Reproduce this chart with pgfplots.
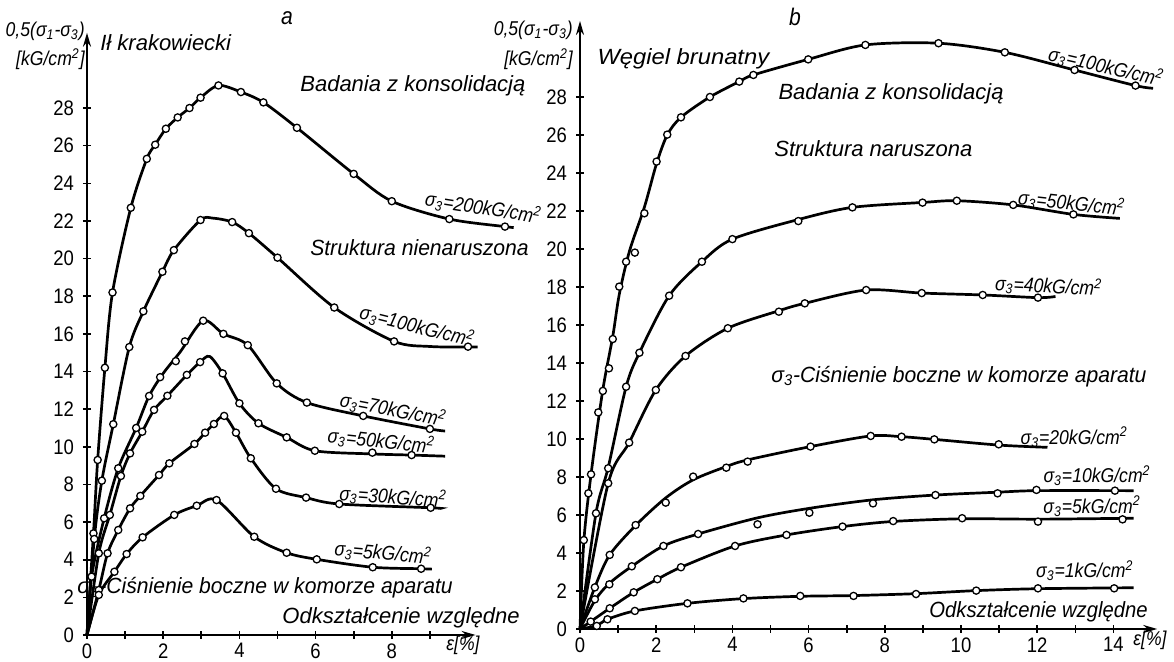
\documentclass[border=0pt]{standalone}
\usepackage{pgfplots}
\pgfplotsset{compat=1.18}
\usepackage{fontspec}
\setmainfont{Liberation Sans}[FakeStretch=0.88]
\newfontfamily\lblfont{Liberation Sans}
\usetikzlibrary{arrows.meta}
\tikzset{lbl/.style={font=\itshape\fontsize{10}{12}\selectfont, inner sep=0pt},
  big/.style={font=\lblfont\itshape\fontsize{11}{13}\selectfont, inner sep=0pt}}
\pgfplotsset{
  curve/.style={black, line width=1.35pt, smooth, no marks},
  pts/.style={black, only marks, mark=*, mark size=1.8pt, mark options={fill=white, draw=black, line width=0.65pt}},
  base/.style={anchor=origin, axis lines=left, clip=false,
    axis line style={line width=1pt, -{Stealth[length=7pt,width=4pt]}},
    xmin=0, ymin=0, ymax=32, ytick={0,2,...,28},
    tick align=center, major tick length=4pt, minor tick length=4pt,
    tick style={black, line width=0.8pt},
    /pgf/number format/assume math mode=true,
    ticklabel style={font=\fontsize{10.5}{11}\selectfont},
    yticklabel style={xshift=-1pt},
    xticklabel style={inner sep=0.5pt, yshift=-1.5pt},
  },
}
\begin{document}
\begin{tikzpicture}
\useasboundingbox (0,0) rectangle (587pt,331pt);
% ---------------- panel a
\begin{axis}[base, at={(43.5pt,13.5pt)}, x=19.05pt, y=9.41pt, xmax=10.2,
  xtick={0,2,...,8}, minor xtick={1,3,...,9}]
% sigma3 = 200
\addplot[curve] coordinates {(0,0) (0.17,5.4) (0.28,9.3) (0.47,14.2) (0.67,18.2) (1.15,22.7) (1.57,25.3) (1.79,26.05) (2.07,26.9) (2.38,27.5) (2.69,28.0) (2.98,28.55) (3.45,29.2) (4.04,28.85) (4.63,28.3) (5.51,26.95) (7.0,24.5) (8.0,23.05) (9.51,22.1) (10.97,21.7) (11.2,21.65)};
\addplot[pts] coordinates {(0.17,5.4) (0.28,9.3) (0.47,14.2) (0.67,18.2) (1.15,22.7) (1.57,25.3) (1.79,26.05) (2.07,26.9) (2.38,27.5) (2.69,28.0) (2.98,28.55) (3.45,29.2) (4.04,28.85) (4.63,28.3) (5.51,26.95) (7.0,24.5) (8.0,23.05) (9.51,22.1) (10.97,21.7)};
% sigma3 = 100
\addplot[curve] coordinates {(0,0) (0.19,5.1) (0.39,8.2) (0.69,11.2) (1.11,15.3) (1.48,17.2) (1.98,19.3) (2.28,20.45) (2.98,22.05) (3.3,22.15) (3.81,21.94) (4.25,21.35) (5.0,20.05) (6.49,17.4) (8.06,15.6) (9.0,15.33) (10.0,15.3) (10.25,15.3)};
\addplot[pts] coordinates {(0.19,5.1) (0.39,8.2) (0.69,11.2) (1.11,15.3) (1.48,17.2) (1.98,19.3) (2.28,20.45) (2.98,22.05) (3.81,21.94) (4.25,21.35) (5.0,20.05) (6.49,17.4) (8.06,15.6) (10.0,15.32)};
% sigma3 = 70
\addplot[curve] coordinates {(0,0) (0.12,3.1) (0.45,6.2) (0.82,8.86) (1.29,11.0) (1.63,12.7) (2.0,13.9) (2.45,15.05) (3.05,16.7) (3.58,16.0) (4.22,15.4) (4.98,13.37) (5.77,12.35) (7.25,11.64) (9.0,10.95) (9.4,10.84)};
\addplot[pts] coordinates {(0.12,3.1) (0.45,6.2) (0.82,8.86) (1.29,11.0) (1.63,12.7) (1.92,13.7) (2.33,14.55) (2.57,15.6) (3.05,16.7) (3.58,16.0) (4.22,15.4) (4.98,13.37) (5.77,12.35) (7.25,11.64) (9.0,10.95)};
% sigma3 = 50
\addplot[curve] coordinates {(0,0) (0.31,4.34) (0.60,6.38) (0.89,8.45) (1.13,9.65) (1.45,10.8) (1.76,11.96) (2.11,12.71) (2.62,13.82) (2.97,14.5) (3.22,14.8) (3.56,13.9) (4.0,12.31) (4.50,11.25) (5.24,10.5) (5.98,9.79) (7.49,9.62) (8.52,9.56) (9.4,9.5)};
\addplot[pts] coordinates {(0.31,4.34) (0.60,6.38) (0.89,8.45) (1.13,9.65) (1.45,10.8) (1.76,11.96) (2.11,12.71) (2.62,13.82) (2.97,14.5) (3.56,13.9) (4.0,12.31) (4.50,11.25) (5.24,10.5) (5.98,9.79) (7.49,9.69) (8.52,9.56)};
% sigma3 = 30
\addplot[curve] coordinates {(0,0) (0.31,2.39) (0.54,4.34) (0.82,5.58) (1.13,6.73) (1.40,7.39) (1.89,8.5) (2.16,9.12) (2.82,10.15) (3.10,10.75) (3.33,11.21) (3.60,11.64) (3.91,10.75) (4.30,9.39) (4.96,7.77) (5.75,7.3) (6.62,6.96) (9.02,6.76) (9.27,6.72)};
\addplot[pts] coordinates {(0.31,2.39) (0.54,4.34) (0.82,5.58) (1.13,6.73) (1.40,7.39) (1.89,8.5) (2.16,9.12) (2.82,10.15) (3.10,10.75) (3.33,11.21) (3.60,11.64) (3.91,10.75) (4.30,9.39) (4.96,7.77) (5.75,7.3) (6.62,6.96) (9.02,6.76)};
% sigma3 = 5
\addplot[curve] coordinates {(0,0) (0.31,2.13) (0.72,3.36) (1.04,4.3) (1.46,5.19) (2.29,6.38) (2.88,6.87) (3.40,7.17) (4.39,5.22) (5.24,4.37) (6.03,4.02) (7.5,3.6) (8.77,3.52) (9.05,3.5)};
\addplot[pts] coordinates {(0.31,2.13) (0.72,3.36) (1.04,4.3) (1.46,5.19) (2.29,6.38) (2.88,6.87) (3.40,7.17) (4.39,5.22) (5.24,4.37) (6.03,4.02) (7.5,3.6) (8.77,3.52)};
% texts
\node[lbl, font=\itshape\fontsize{12}{12}\selectfont] at (axis cs:5.25,32.8) {a};
\node[big, anchor=west] at (axis cs:0.34,31.5) {Ił krakowiecki};
\node[lbl, anchor=east] at (axis cs:-0.05,32.1) {0,5(σ\textsubscript{1}-σ\textsubscript{3})};
\node[lbl, anchor=east] at (axis cs:-0.05,30.6) {[kG/cm\textsuperscript{2}]};
\node[big, anchor=west] at (axis cs:5.59,29.2) {Badania z konsolidacją};
\node[big, anchor=west] at (axis cs:5.85,20.56) {\scalebox{0.96}[1]{Struktura nienaruszona}};
\node[lbl, rotate=-9] at (axis cs:10.4,22.7) {σ\textsubscript{3}=200kG/cm\textsuperscript{2}};
\node[lbl, rotate=-14] at (axis cs:8.66,16.4) {σ\textsubscript{3}=100kG/cm\textsuperscript{2}};
\node[lbl, rotate=-11] at (axis cs:8.03,11.96) {σ\textsubscript{3}=70kG/cm\textsuperscript{2}};
\node[lbl, rotate=-6] at (axis cs:7.72,10.3) {σ\textsubscript{3}=50kG/cm\textsuperscript{2}};
\node[lbl, rotate=-4] at (axis cs:8.03,7.33) {σ\textsubscript{3}=30kG/cm\textsuperscript{2}};
\node[lbl, rotate=-5] at (axis cs:7.77,4.36) {σ\textsubscript{3}=5kG/cm\textsuperscript{2}};
\node[big, anchor=west] at (axis cs:-0.26,2.5) {\scalebox{0.96}[1]{σ\textsubscript{3}-Ciśnienie boczne w komorze aparatu}};
\node[big, anchor=west] at (axis cs:5.12,0.9) {Odkształcenie względne};
\node[lbl] at (axis cs:9.87,-0.55) {ε[\%]};
\end{axis}
% ---------------- panel b
\begin{axis}[base, at={(290pt,16.5pt)}, x=19.05pt, y=9.5pt, xmax=15.15,
  xtick={0,2,...,14}, minor xtick={1,3,...,13}]
% sigma3 = 100
\addplot[curve] coordinates {(0,0) (0.1,4.6) (0.3,8.3) (0.6,12.6) (0.86,15.4) (1.03,17.6) (1.3,19.9) (1.69,22.2) (2.01,24.5) (2.29,26.0) (2.65,26.93) (3.41,28.0) (4.18,28.81) (4.55,29.16) (5.99,29.98) (7.49,30.74) (9.41,30.83) (11.15,30.35) (12.98,29.42) (14.58,28.6) (15.04,28.46)};
\addplot[pts] coordinates {(0.10,4.68) (0.22,7.14) (0.29,8.14) (0.48,11.4) (0.6,12.53) (0.76,13.72) (0.86,15.26) (1.03,18.02) (1.21,19.33) (1.44,19.81) (1.69,21.88) (2.01,24.6) (2.29,26.02) (2.65,26.93) (3.41,28.0) (4.18,28.81) (4.55,29.16) (5.99,29.98) (7.49,30.74) (9.41,30.83) (11.15,30.35) (12.98,29.42) (14.58,28.6)};
% sigma3 = 50
\addplot[curve] coordinates {(0,0) (0.42,6.1) (0.74,8.5) (1.21,12.75) (1.56,14.54) (2.34,17.54) (3.2,19.33) (4.0,20.52) (5.73,21.55) (7.15,22.19) (9.0,22.45) (9.9,22.54) (11.37,22.32) (12.95,21.82) (14.17,21.61)};
\addplot[pts] coordinates {(0.42,6.09) (0.74,8.46) (1.21,12.75) (1.56,14.54) (2.34,17.54) (3.2,19.33) (4.0,20.52) (5.73,21.47) (7.15,22.19) (8.99,22.44) (9.89,22.54) (11.37,22.32) (12.95,21.82)};
% sigma3 = 40
\addplot[curve] coordinates {(0,0) (0.74,7.67) (1.29,9.81) (1.99,12.58) (2.77,14.37) (3.88,15.83) (5.22,16.75) (5.90,17.14) (7.51,17.84) (8.97,17.68) (10.57,17.58) (12.02,17.44) (12.48,17.5)};
\addplot[pts] coordinates {(0.74,7.67) (1.29,9.81) (1.99,12.58) (2.77,14.37) (3.88,15.83) (5.22,16.7) (5.90,17.14) (7.51,17.84) (8.97,17.68) (10.57,17.58) (12.02,17.44)};
% sigma3 = 20
\addplot[curve] coordinates {(0,0) (0.39,2.2) (0.78,3.9) (1.46,5.45) (2.25,6.9) (2.97,7.85) (3.84,8.55) (4.40,8.9) (6.05,9.6) (7.63,10.16) (8.44,10.12) (9.30,9.98) (10.99,9.68) (12.27,9.56)};
\addplot[pts] coordinates {(0.39,2.19) (0.78,3.9) (1.46,5.47) (2.25,6.65) (2.97,8.02) (3.84,8.49) (4.40,8.81) (6.05,9.6) (7.63,10.16) (8.44,10.12) (9.30,9.98) (10.99,9.72)};
% sigma3 = 10
\addplot[curve] coordinates {(0,0) (0.39,1.5) (0.77,2.4) (1.36,3.3) (2.19,4.37) (3.10,5.0) (4.66,5.85) (6.02,6.35) (7.69,6.8) (9.33,7.05) (10.96,7.2) (12.0,7.28) (14.53,7.28)};
\addplot[pts] coordinates {(0.39,1.56) (0.77,2.35) (1.36,3.3) (2.19,4.37) (3.10,5.0) (4.66,5.51) (6.02,6.12) (7.69,6.61) (9.33,7.05) (10.96,7.14) (11.98,7.32) (14.04,7.28)};
% sigma3 = 5
\addplot[curve] coordinates {(0,0) (0.28,0.39) (0.78,1.09) (1.41,1.93) (2.03,2.62) (2.65,3.25) (4.07,4.37) (5.42,4.95) (6.89,5.39) (8.22,5.66) (10.03,5.8) (12.02,5.78) (14.53,5.83)};
\addplot[pts] coordinates {(0.28,0.39) (0.78,1.09) (1.41,1.93) (2.03,2.62) (2.65,3.25) (4.07,4.37) (5.42,4.95) (6.89,5.39) (8.22,5.68) (10.03,5.83) (12.02,5.65) (14.24,5.77)};
% sigma3 = 1
\addplot[curve] coordinates {(0,0) (0.44,0.18) (0.72,0.51) (1.44,0.95) (2.82,1.35) (4.29,1.6) (5.78,1.72) (7.18,1.76) (8.82,1.86) (10.4,2.02) (12.02,2.12) (14.53,2.17)};
\addplot[pts] coordinates {(0.44,0.16) (0.72,0.51) (1.44,0.95) (2.82,1.35) (4.29,1.61) (5.78,1.74) (7.18,1.74) (8.82,1.84) (10.4,2.02) (12.02,2.14) (14.02,2.14)};
% texts
\node[lbl, font=\itshape\fontsize{12}{12}\selectfont] at (axis cs:5.64,32.2) {b};
\node[lbl, anchor=east] at (axis cs:-0.18,31.5) {0,5(σ\textsubscript{1}-σ\textsubscript{3})};
\node[lbl, anchor=east] at (axis cs:-0.18,30.0) {[kG/cm\textsuperscript{2}]};
\node[big, anchor=west] at (axis cs:0.45,30.0) {\scalebox{1.08}[1]{Węgiel brunatny}};
\node[big, anchor=west] at (axis cs:5.2,28.16) {Badania z konsolidacją};
\node[big, anchor=west] at (axis cs:5.09,25.3) {Struktura naruszona};
\node[lbl, rotate=-13] at (axis cs:13.8,29.6) {σ\textsubscript{3}=100kG/cm\textsuperscript{2}};
\node[lbl, rotate=-6] at (axis cs:12.9,22.4) {σ\textsubscript{3}=50kG/cm\textsuperscript{2}};
\node[lbl, rotate=-3] at (axis cs:12.3,18.05) {σ\textsubscript{3}=40kG/cm\textsuperscript{2}};
\node[big, anchor=west] at (axis cs:5.01,13.3) {\scalebox{0.96}[1]{σ\textsubscript{3}-Ciśnienie boczne w komorze aparatu}};
\node[lbl] at (axis cs:12.97,10.1) {σ\textsubscript{3}=20kG/cm\textsuperscript{2}};
\node[lbl] at (axis cs:13.57,8.05) {σ\textsubscript{3}=10kG/cm\textsuperscript{2}};
\node[lbl] at (axis cs:13.44,6.47) {σ\textsubscript{3}=5kG/cm\textsuperscript{2}};
\node[lbl] at (axis cs:13.25,3.05) {σ\textsubscript{3}=1kG/cm\textsuperscript{2}};
\node[big, anchor=west] at (axis cs:9.16,0.9) {\scalebox{0.92}[1]{Odkształcenie względne}};
\node[lbl] at (axis cs:14.96,-0.6) {ε[\%]};
\end{axis}
\end{tikzpicture}
\end{document}
